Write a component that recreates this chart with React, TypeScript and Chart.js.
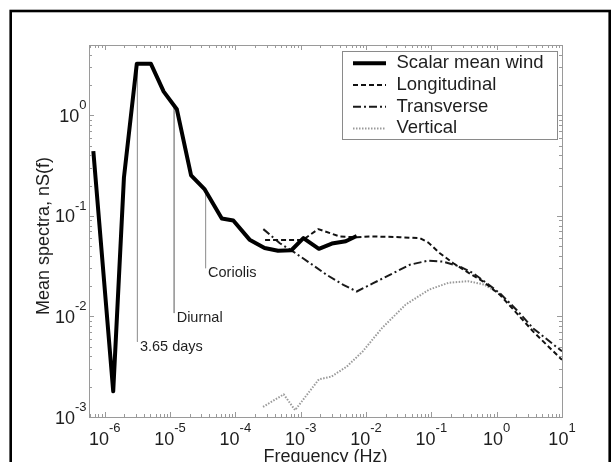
import React, { useEffect, useRef } from "react";
import { Chart, registerables } from "chart.js";

Chart.register(...registerables);

// ---- data ----
const SERIES_LABELS = ["Scalar mean wind", "Longitudinal", "Transverse", "Vertical"];

const SCALAR_FREQ = [6.7e-7, 1.35e-6, 1.97e-6, 3.1e-6, 5.1e-6, 8.0e-6, 1.27e-5, 2.1e-5, 3.4e-5, 6.2e-5, 9.3e-5, 1.65e-4, 2.8e-4, 4.5e-4, 7.2e-4, 1.1e-3, 1.9e-3, 3.0e-3, 4.9e-3, 7.2e-3];
const SCALAR_NS = [0.44, 1.8e-3, 0.24, 3.25, 3.25, 1.72, 1.15, 0.253, 0.183, 0.094, 0.09, 0.058, 0.048, 0.045, 0.0455, 0.06, 0.047, 0.053, 0.056, 0.063];

const LONG_FREQ = [2.85e-4, 1.08e-3, 1.86e-3, 4.0e-3, 7.2e-3, 0.0115, 0.033, 0.067, 0.09, 0.135, 0.217, 0.348, 0.624, 1.12, 2.02, 3.63, 10];
const LONG_NS = [0.0577, 0.0577, 0.0738, 0.0622, 0.0614, 0.0625, 0.0614, 0.06, 0.0542, 0.0425, 0.0338, 0.0279, 0.0222, 0.0164, 0.0108, 7.06e-3, 3.7e-3];

const TRANS_FREQ = [2.68e-4, 4.8e-4, 7.7e-4, 1.39e-3, 2.5e-3, 4.5e-3, 7.2e-3, 0.0129, 0.0262, 0.0471, 0.0897, 0.152, 0.274, 0.438, 0.703, 1.12, 2.02, 3.63, 10];
const TRANS_NS = [0.0738, 0.0534, 0.0441, 0.0339, 0.0259, 0.0206, 0.0177, 0.0214, 0.027, 0.0327, 0.0359, 0.0351, 0.0313, 0.0269, 0.0214, 0.017, 0.0116, 7.6e-3, 4.5e-3];

const VERT_FREQ = [2.65e-4, 5.5e-4, 8.2e-4, 1.9e-3, 2.95e-3, 5.1e-3, 8.9e-3, 0.0177, 0.0404, 0.0925, 0.184, 0.366, 0.635, 1.0];
const VERT_NS = [1.26e-3, 1.68e-3, 1.17e-3, 2.37e-3, 2.52e-3, 3.18e-3, 4.49e-3, 7.7e-3, 0.0131, 0.0185, 0.0216, 0.0224, 0.0208, 0.0175];

const ANNOT_LABELS = ["3.65 days", "Diurnal", "Coriolis"];
const ANNOT_FREQ = [3.17e-6, 1.157e-5, 3.5e-5];
const ANNOT_TOP = [3.25, 1.25, 0.18];
const ANNOT_BOTTOM = [5.6e-3, 0.0108, 0.0302];

const X_TICK_EXPONENTS = [-6, -5, -4, -3, -2, -1, 0, 1];
const Y_TICK_EXPONENTS = [-3, -2, -1, 0];
const X_MIN = 5.75e-7;
const X_MAX = 10;
const Y_MIN = 1e-3;
const Y_MAX = 5;

const X_TITLE = "Frequency (Hz)";
const Y_TITLE = "Mean spectra, nS(f)";

// ---- styles ----
const FONT = "'Liberation Sans', Arial, Helvetica, sans-serif";
const TEXT_COLOR = "#1e1e1e";
const FRAME_COLOR = "#9a9a9a";

const SERIES_STYLE = [
  { color: "#000000", width: 4, dash: [] as number[] },
  { color: "#111111", width: 2, dash: [5, 3] },
  { color: "#1a1a1a", width: 2, dash: [8, 3, 2, 3] },
  { color: "#9a9a9a", width: 2, dash: [1.5, 1.5] },
];

const toPoints = (xs: number[], ys: number[]) => xs.map((x, i) => ({ x, y: ys[i] }));

function drawPow(ctx: CanvasRenderingContext2D, anchorX: number, baseline: number, exp: number, align: "center" | "right") {
  const es = String(exp);
  ctx.font = `18px ${FONT}`;
  const wb = ctx.measureText("10").width;
  ctx.font = `13px ${FONT}`;
  const we = ctx.measureText(es).width;
  const total = wb + we;
  const left = align === "center" ? anchorX - total / 2 : anchorX - total;
  ctx.textAlign = "left";
  ctx.textBaseline = "alphabetic";
  ctx.fillStyle = TEXT_COLOR;
  ctx.font = `18px ${FONT}`;
  ctx.fillText("10", left, baseline);
  ctx.font = `13px ${FONT}`;
  ctx.fillText(es, left + wb, baseline - 12.5);
}

const matlabPlugin = {
  id: "matlabAxes",
  afterDatasetsDraw(chart: any) {
    const { ctx, chartArea: a, scales } = chart;
    const xs = scales.x;
    const ys = scales.y;
    ctx.save();
    ctx.strokeStyle = FRAME_COLOR;
    ctx.lineWidth = 1;
    ctx.setLineDash([]);
    ctx.strokeRect(Math.round(a.left) + 0.5, Math.round(a.top) + 0.5, Math.round(a.right - a.left), Math.round(a.bottom - a.top));
    ctx.beginPath();
    for (let d = -8; d <= 1; d++) {
      for (let m = 1; m <= 9; m++) {
        const v = m * Math.pow(10, d);
        const len = m === 1 ? 5 : 3;
        if (v >= X_MIN * 0.999 && v <= X_MAX * 1.001) {
          const px = Math.round(xs.getPixelForValue(v)) + 0.5;
          ctx.moveTo(px, a.bottom);
          ctx.lineTo(px, a.bottom - len);
          ctx.moveTo(px, a.top);
          ctx.lineTo(px, a.top + len);
        }
        if (v >= Y_MIN * 0.999 && v <= Y_MAX * 1.001) {
          const py = Math.round(ys.getPixelForValue(v)) + 0.5;
          ctx.moveTo(a.left, py);
          ctx.lineTo(a.left + len, py);
          ctx.moveTo(a.right, py);
          ctx.lineTo(a.right - len, py);
        }
      }
    }
    ctx.stroke();
    ctx.restore();
  },
  afterDraw(chart: any) {
    const { ctx, chartArea: a, scales } = chart;
    const xs = scales.x;
    const ys = scales.y;
    ctx.save();
    // tick labels
    X_TICK_EXPONENTS.forEach((e) => {
      drawPow(ctx, xs.getPixelForValue(Math.pow(10, e)), a.bottom + 27.5, e, "center");
    });
    Y_TICK_EXPONENTS.forEach((e) => {
      drawPow(ctx, a.left - 2.5, ys.getPixelForValue(Math.pow(10, e)) + 6.5, e, "right");
    });
    // y axis title
    ctx.save();
    ctx.translate(44, (a.top + a.bottom) / 2 + 5);
    ctx.rotate(-Math.PI / 2);
    ctx.font = `18px ${FONT}`;
    ctx.fillStyle = TEXT_COLOR;
    ctx.textAlign = "center";
    ctx.textBaseline = "middle";
    ctx.fillText(Y_TITLE, 0, 0);
    ctx.restore();
    // annotation labels
    ctx.font = `14.5px ${FONT}`;
    ctx.fillStyle = TEXT_COLOR;
    ctx.textAlign = "left";
    ctx.textBaseline = "middle";
    ANNOT_LABELS.forEach((lab, i) => {
      const px = xs.getPixelForValue(ANNOT_FREQ[i]);
      const py = ys.getPixelForValue(ANNOT_BOTTOM[i]);
      ctx.fillText(lab, px + 2.5, py + 5);
    });
    // legend
    const lx1 = Math.round(a.right - 220) + 0.5;
    const lx2 = Math.round(a.right - 5) + 0.5;
    const ly1 = Math.round(a.top + 6) + 0.5;
    const ly2 = Math.round(a.top + 94) + 0.5;
    ctx.fillStyle = "#ffffff";
    ctx.fillRect(lx1, ly1, lx2 - lx1, ly2 - ly1);
    ctx.strokeStyle = "#8a8a8a";
    ctx.lineWidth = 1;
    ctx.setLineDash([]);
    ctx.strokeRect(lx1, ly1, lx2 - lx1, ly2 - ly1);
    SERIES_LABELS.forEach((lab, i) => {
      const cy = a.top + 18.3 + i * 21.7;
      const st = SERIES_STYLE[i];
      ctx.beginPath();
      ctx.strokeStyle = st.color;
      ctx.lineWidth = st.width;
      ctx.setLineDash(st.dash);
      ctx.moveTo(a.right - 209, cy);
      ctx.lineTo(a.right - 176, cy);
      ctx.stroke();
      ctx.setLineDash([]);
      ctx.fillStyle = TEXT_COLOR;
      ctx.font = `18.5px ${FONT}`;
      ctx.textAlign = "left";
      ctx.textBaseline = "middle";
      ctx.fillText(lab, a.right - 165.5, cy);
    });
    // outer figure border
    ctx.strokeStyle = "#000000";
    ctx.lineWidth = 2.6;
    ctx.strokeRect(10.7, 11, 599, 480);
    ctx.restore();
  },
};

export default function App() {
  const ref = useRef<HTMLCanvasElement | null>(null);

  useEffect(() => {
    if (!ref.current) return;
    const seriesData = [
      toPoints(SCALAR_FREQ, SCALAR_NS),
      toPoints(LONG_FREQ, LONG_NS),
      toPoints(TRANS_FREQ, TRANS_NS),
      toPoints(VERT_FREQ, VERT_NS),
    ];
    const datasets: any[] = seriesData.map((data, i) => ({
      label: SERIES_LABELS[i],
      data,
      borderColor: SERIES_STYLE[i].color,
      borderWidth: SERIES_STYLE[i].width,
      borderDash: SERIES_STYLE[i].dash,
      borderJoinStyle: "round",
      borderCapStyle: "butt",
      pointRadius: 0,
      tension: 0,
      fill: false,
      order: i,
    }));
    ANNOT_LABELS.forEach((lab, i) => {
      datasets.push({
        label: lab,
        data: [
          { x: ANNOT_FREQ[i], y: ANNOT_TOP[i] },
          { x: ANNOT_FREQ[i], y: ANNOT_BOTTOM[i] },
        ],
        borderColor: "#9c9c9c",
        borderWidth: 1,
        pointRadius: 0,
        tension: 0,
        fill: false,
        order: 10,
      });
    });

    const chart = new Chart(ref.current, {
      type: "line",
      data: { datasets },
      options: {
        responsive: false,
        maintainAspectRatio: false,
        animation: false,
        layout: { padding: { left: 0, top: 45, right: 49, bottom: 0 } },
        plugins: { legend: { display: false }, tooltip: { enabled: false } },
        scales: {
          x: {
            type: "logarithmic",
            min: X_MIN,
            max: X_MAX,
            grid: { display: false, drawTicks: false },
            border: { display: false },
            ticks: { display: false },
            title: {
              display: true,
              text: X_TITLE,
              color: TEXT_COLOR,
              font: { family: FONT, size: 18, lineHeight: 1 },
              padding: { top: 0, bottom: -4 },
            },
            afterFit: (s: any) => {
              s.height = 45;
            },
          },
          y: {
            type: "logarithmic",
            min: Y_MIN,
            max: Y_MAX,
            grid: { display: false, drawTicks: false },
            border: { display: false },
            ticks: { display: false },
            title: { display: false, text: Y_TITLE },
            afterFit: (s: any) => {
              s.width = 89;
            },
          },
        },
      } as any,
      plugins: [matlabPlugin as any],
    });
    return () => chart.destroy();
  }, []);

  return (
    <div style={{ position: "absolute", left: 0, top: 0, width: 611, height: 462, background: "#ffffff" }}>
      <canvas ref={ref} width={611} height={462} style={{ display: "block", width: 611, height: 462 }} />
    </div>
  );
}
